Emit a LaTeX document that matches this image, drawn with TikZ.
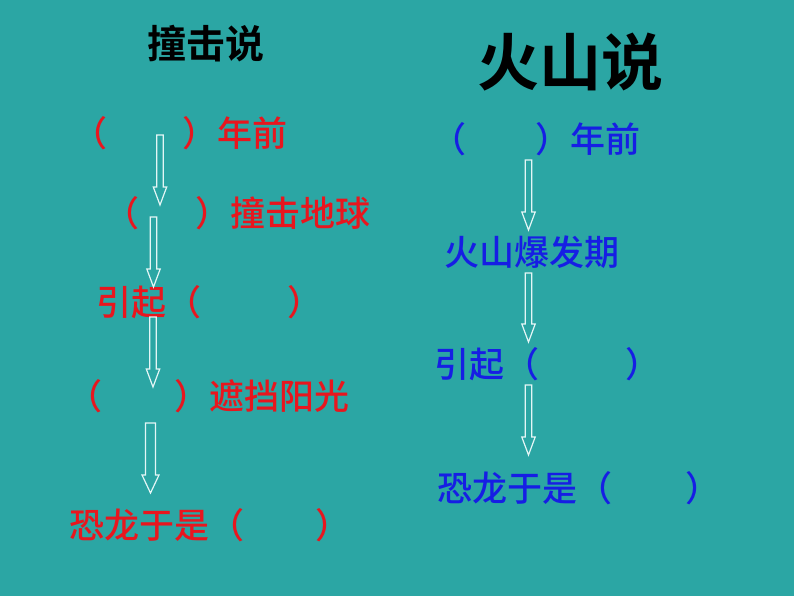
\documentclass[tikz,border=0pt]{standalone}
\usepackage{fontspec}
\setmainfont{Noto Sans CJK SC}[BoldFont={Noto Sans CJK SC Medium}]
\newfontfamily\heavycjk{Noto Sans CJK SC Bold}
\usetikzlibrary{calc}
\definecolor{bgteal}{RGB}{43,166,164}
\definecolor{txtred}{RGB}{232,22,30}
\definecolor{txtblue}{RGB}{22,30,228}
\definecolor{arrowline}{RGB}{228,246,246}
\tikzstyle{title} = [inner sep=0pt, text=black, font=\heavycjk\fontsize{39}{44}\selectfont]
\tikzstyle{redstep} = [anchor=west, inner sep=0pt, text=txtred, font=\bfseries\fontsize{35}{40}\selectfont]
\tikzstyle{bluestep} = [redstep, text=txtblue]
\tikzstyle{hollow} = [draw=arrowline, line width=1.2pt, fill=bgteal, line join=miter]
% hollow block arrow: [shaft half width]{start}{tip}
\newcommand{\blockarrow}[3][3.2]{%
  \draw[hollow] ($(#2)+(-#1,0)$) -- ($(#3)+(-#1,-18)$) -- ($(#3)+(-#1-3.5,-18)$) -- (#3)
    -- ($(#3)+(#1+3.5,-18)$) -- ($(#3)+(#1,-18)$) -- ($(#2)+(#1,0)$) -- cycle;}

\begin{document}
\begin{tikzpicture}[x=1pt,y=-1pt]

\fill[bgteal] (0,0) rectangle (794,596);

% impact theory
\node (impact) [title] at (206,44) {撞击说};
\node (r1) [redstep] at (72,133) {（\hspace{75pt}）年前};
\node (r2) [redstep] at (104,213) {（\hspace{56pt}）撞击地球};
\node (r3) [redstep] at (96,302) {引起（\hspace{86pt}）};
\node (r4) [redstep] at (67,396) {（\hspace{72pt}）遮挡阳光};
\node (r5) [redstep] at (69,525) {恐龙于是（\hspace{71pt}）};

% volcano theory
\node (volcano) [title, font=\heavycjk\fontsize{62}{66}\selectfont] at (570,62) {火山说};
\node (b1) [bluestep] at (431,139) {（\hspace{69pt}）年前};
\node (b2) [bluestep] at (444,252) {火山爆发期};
\node (b3) [bluestep] at (434,364) {引起（\hspace{86pt}）};
\node (b4) [bluestep] at (437,488) {恐龙于是（\hspace{73pt}）};

\coordinate (ra1) at (160,135);   \coordinate (rt1) at (160,205);
\coordinate (ra2) at (153.5,217); \coordinate (rt2) at (153.5,287);
\coordinate (ra3) at (153,317);   \coordinate (rt3) at (153,387);
\coordinate (ra4) at (150.5,423); \coordinate (rt4) at (150.5,493);
\coordinate (ba1) at (528.5,160); \coordinate (bt1) at (528.5,230);
\coordinate (ba2) at (528.5,273); \coordinate (bt2) at (528.5,342);
\coordinate (ba3) at (528.5,385); \coordinate (bt3) at (528.5,455);

\blockarrow{ra1}{rt1}
\blockarrow{ra2}{rt2}
\blockarrow{ra3}{rt3}
\blockarrow[5]{ra4}{rt4}
\blockarrow{ba1}{bt1}
\blockarrow{ba2}{bt2}
\blockarrow{ba3}{bt3}

\end{tikzpicture}
\end{document}
